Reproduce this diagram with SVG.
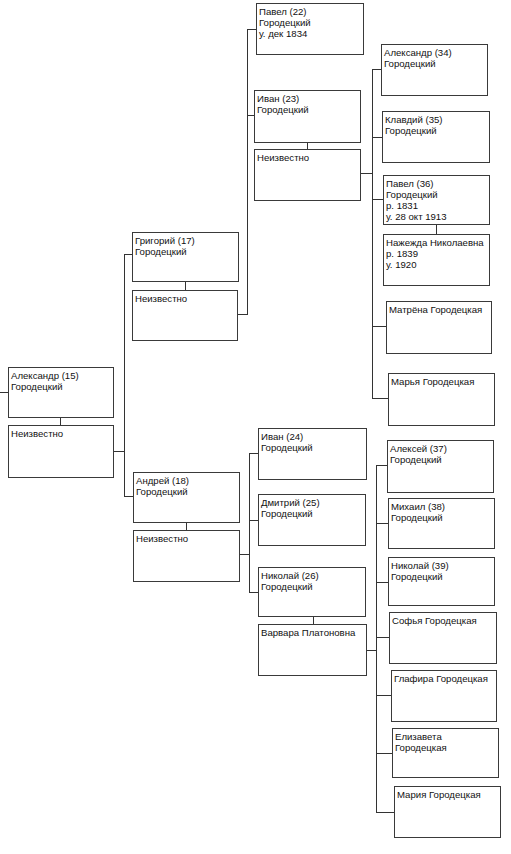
<svg xmlns="http://www.w3.org/2000/svg" width="511" height="854" viewBox="0 0 511 854">
<style>
.b rect{fill:#fff;stroke:#3a3a3a;stroke-width:1}
.b text{font-family:"Liberation Sans",Arial,sans-serif;font-size:9.6px;fill:#111}
#c path{fill:none;stroke:#333;stroke-width:1}
</style>
<rect width="511" height="854" fill="#fff"/>
<g id="c">
<path d="M0 392.5H8.5M60.5 417V425M113 451.5H124.5M124.5 254V496M124 254.5H132M124 496.5H133"/>
<path d="M185.5 281V290M238 314.5H247.5M247.5 29V315M247 29.5H256M247 115.5H254M307.5 142V149M361 173.5H372.5M372.5 69V399M372 69.5H381M372 137.5H382M372 199.5H383M436.5 224V234M372 326.5H386M372 398.5H388"/>
<path d="M186.5 522V530M239 554.5H249.5M249.5 453V593M249 453.5H258M249 520.5H258M249 592.5H258M313.5 616V624M367 650.5H376.5M376.5 465V813M376 465.5H387M376 523.5H388M376 582.5H388M376 637.5H389M376 695.5H391M376 753.5H392M376 812.5H394"/>
</g>
<g id="n15" class="b"><rect x="8.5" y="367.5" width="105" height="50"/><text x="11" y="379">Александр (15)</text><text x="11" y="390">Городецкий</text></g>
<g id="n15s" class="b"><rect x="8.5" y="425.5" width="105" height="52"/><text x="11" y="437">Неизвестно</text></g>
<g id="n17" class="b"><rect x="132.5" y="232.5" width="106" height="49"/><text x="135" y="244">Григорий (17)</text><text x="135" y="255">Городецкий</text></g>
<g id="n17s" class="b"><rect x="132.5" y="290.5" width="105" height="50"/><text x="135" y="302">Неизвестно</text></g>
<g id="n22" class="b"><rect x="256.5" y="3.5" width="107" height="51"/><text x="259" y="15">Павел (22)</text><text x="259" y="26">Городецкий</text><text x="259" y="37">у. дек 1834</text></g>
<g id="n23" class="b"><rect x="254.5" y="90.5" width="106" height="52"/><text x="257" y="102">Иван (23)</text><text x="257" y="113">Городецкий</text></g>
<g id="n23s" class="b"><rect x="254.5" y="149.5" width="106" height="51"/><text x="257" y="161">Неизвестно</text></g>
<g id="n34" class="b"><rect x="381.5" y="44.5" width="106" height="51"/><text x="384" y="56">Александр (34)</text><text x="384" y="67">Городецкий</text></g>
<g id="n35" class="b"><rect x="382.5" y="111.5" width="107" height="51"/><text x="385" y="123">Клавдий (35)</text><text x="385" y="134">Городецкий</text></g>
<g id="n36" class="b"><rect x="383.5" y="175.5" width="106" height="49"/><text x="386" y="187">Павел (36)</text><text x="386" y="198">Городецкий</text><text x="386" y="209">р. 1831</text><text x="386" y="220">у. 28 окт 1913</text></g>
<g id="n36s" class="b"><rect x="383.5" y="234.5" width="106" height="51"/><text x="386" y="246">Нажежда Николаевна</text><text x="386" y="257">р. 1839</text><text x="386" y="268">у. 1920</text></g>
<g id="nMat" class="b"><rect x="386.5" y="301.5" width="105" height="52"/><text x="389" y="313">Матрёна Городецкая</text></g>
<g id="nMar" class="b"><rect x="388.5" y="373.5" width="106" height="52"/><text x="391" y="385">Марья Городецкая</text></g>
<g id="n18" class="b"><rect x="133.5" y="472.5" width="106" height="50"/><text x="136" y="484">Андрей (18)</text><text x="136" y="495">Городецкий</text></g>
<g id="n18s" class="b"><rect x="133.5" y="530.5" width="106" height="51"/><text x="136" y="542">Неизвестно</text></g>
<g id="n24" class="b"><rect x="258.5" y="428.5" width="108" height="51"/><text x="261" y="440">Иван (24)</text><text x="261" y="451">Городецкий</text></g>
<g id="n25" class="b"><rect x="258.5" y="494.5" width="107" height="51"/><text x="261" y="506">Дмитрий (25)</text><text x="261" y="517">Городецкий</text></g>
<g id="n26" class="b"><rect x="258.5" y="567.5" width="107" height="49"/><text x="261" y="579">Николай (26)</text><text x="261" y="590">Городецкий</text></g>
<g id="n26s" class="b"><rect x="258.5" y="624.5" width="108" height="51"/><text x="261" y="636">Варвара Платоновна</text></g>
<g id="n37" class="b"><rect x="387.5" y="440.5" width="106" height="52"/><text x="390" y="452">Алексей (37)</text><text x="390" y="463">Городецкий</text></g>
<g id="n38" class="b"><rect x="388.5" y="498.5" width="106" height="50"/><text x="391" y="510">Михаил (38)</text><text x="391" y="521">Городецкий</text></g>
<g id="n39" class="b"><rect x="388.5" y="557.5" width="106" height="48"/><text x="391" y="569">Николай (39)</text><text x="391" y="580">Городецкий</text></g>
<g id="nSof" class="b"><rect x="389.5" y="612.5" width="107" height="51"/><text x="392" y="624">Софья Городецкая</text></g>
<g id="nGla" class="b"><rect x="391.5" y="670.5" width="105" height="51"/><text x="394" y="682">Глафира Городецкая</text></g>
<g id="nEli" class="b"><rect x="392.5" y="728.5" width="106" height="49"/><text x="395" y="740">Елизавета</text><text x="395" y="751">Городецкая</text></g>
<g id="nMari" class="b"><rect x="394.5" y="786.5" width="106" height="51"/><text x="397" y="798">Мария Городецкая</text></g>
</svg>
